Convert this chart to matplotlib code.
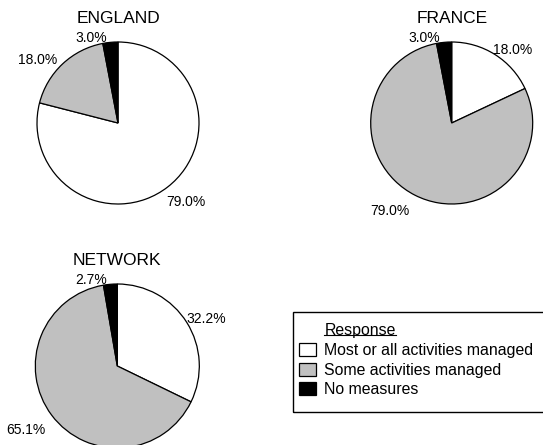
import numpy as np
import matplotlib
matplotlib.use("Agg")
import matplotlib.pyplot as plt
from matplotlib.patches import Patch, Rectangle
from matplotlib.lines import Line2D

plt.rcParams['font.family'] = ['Liberation Sans', 'DejaVu Sans']

categories = ["Most or all activities managed", "Some activities managed", "No measures"]
colors = ["white", "#c0c0c0", "black"]
england = [79.0, 18.0, 3.0]
france = [18.0, 79.0, 3.0]
network = [32.2, 65.1, 2.7]

W, H = 543, 445
fig = plt.figure(figsize=(W / 100, H / 100), dpi=100)


def pie_axes(cx, cy, r, size=260):
    # square axes in pixel units so radius 1 == r pixels
    ax = fig.add_axes([(cx - size / 2) / W, 1 - (cy + size / 2) / H, size / W, size / H])
    return ax, size / 2 / r


def draw_pie(ax, lim, title, vals):
    wedges, _ = ax.pie(vals, colors=colors, startangle=90, counterclock=False,
                       wedgeprops=dict(edgecolor="black", linewidth=0.9))
    ax.set_xlim(-lim, lim)
    ax.set_ylim(-lim, lim)
    ax.axis("off")
    for w, v in zip(wedges, vals):
        ang = np.deg2rad((w.theta1 + w.theta2) / 2)
        x, y = 1.04 * np.cos(ang), 1.04 * np.sin(ang)
        ha = "left" if x >= 0 else "right"
        va = "bottom" if y >= 0 else "top"
        ax.annotate("{:.1f}%".format(v), (x, y), xytext=(-2.5, -4), textcoords="offset points",
                    ha=ha, va=va, fontsize=10)
    ax.text(0, 1.29, title, ha="center", va="center", fontsize=12.5)


ax1, lim1 = pie_axes(118, 123, 81)
draw_pie(ax1, lim1, "ENGLAND", england)
ax2, lim2 = pie_axes(451.7, 123, 81)
draw_pie(ax2, lim2, "FRANCE", france)
ax3, lim3 = pie_axes(117.3, 366, 82)
draw_pie(ax3, lim3, "NETWORK", network)

# legend frame
frame = Rectangle((293 / W, 1 - 412 / H), (W - 293 + 5) / W, 100 / H,
                  transform=fig.transFigure, fill=False, edgecolor="black", linewidth=1.0)
fig.add_artist(frame)

handles = [Patch(visible=False)] + [Patch(facecolor=c, edgecolor="black", linewidth=0.9) for c in colors]
labels = ["Response"] + categories
leg = fig.legend(handles, labels, loc="upper left", bbox_to_anchor=(299 / W, 1 - 323 / H),
                 frameon=False, borderpad=0, borderaxespad=0, fontsize=11.4,
                 handlelength=1.05, handleheight=0.9, handletextpad=0.55, labelspacing=0.3)

fig.canvas.draw()
renderer = fig.canvas.get_renderer()
bb = leg.get_texts()[0].get_window_extent(renderer)
inv = fig.transFigure.inverted()
(x0, y0), (x1, _) = inv.transform([(bb.x0, bb.y0 + 0.17 * bb.height), (bb.x1, bb.y0)])
fig.add_artist(Line2D([x0, x1], [y0, y0], transform=fig.transFigure, color="black", linewidth=0.8))

fig.savefig("out.png", dpi=100)
